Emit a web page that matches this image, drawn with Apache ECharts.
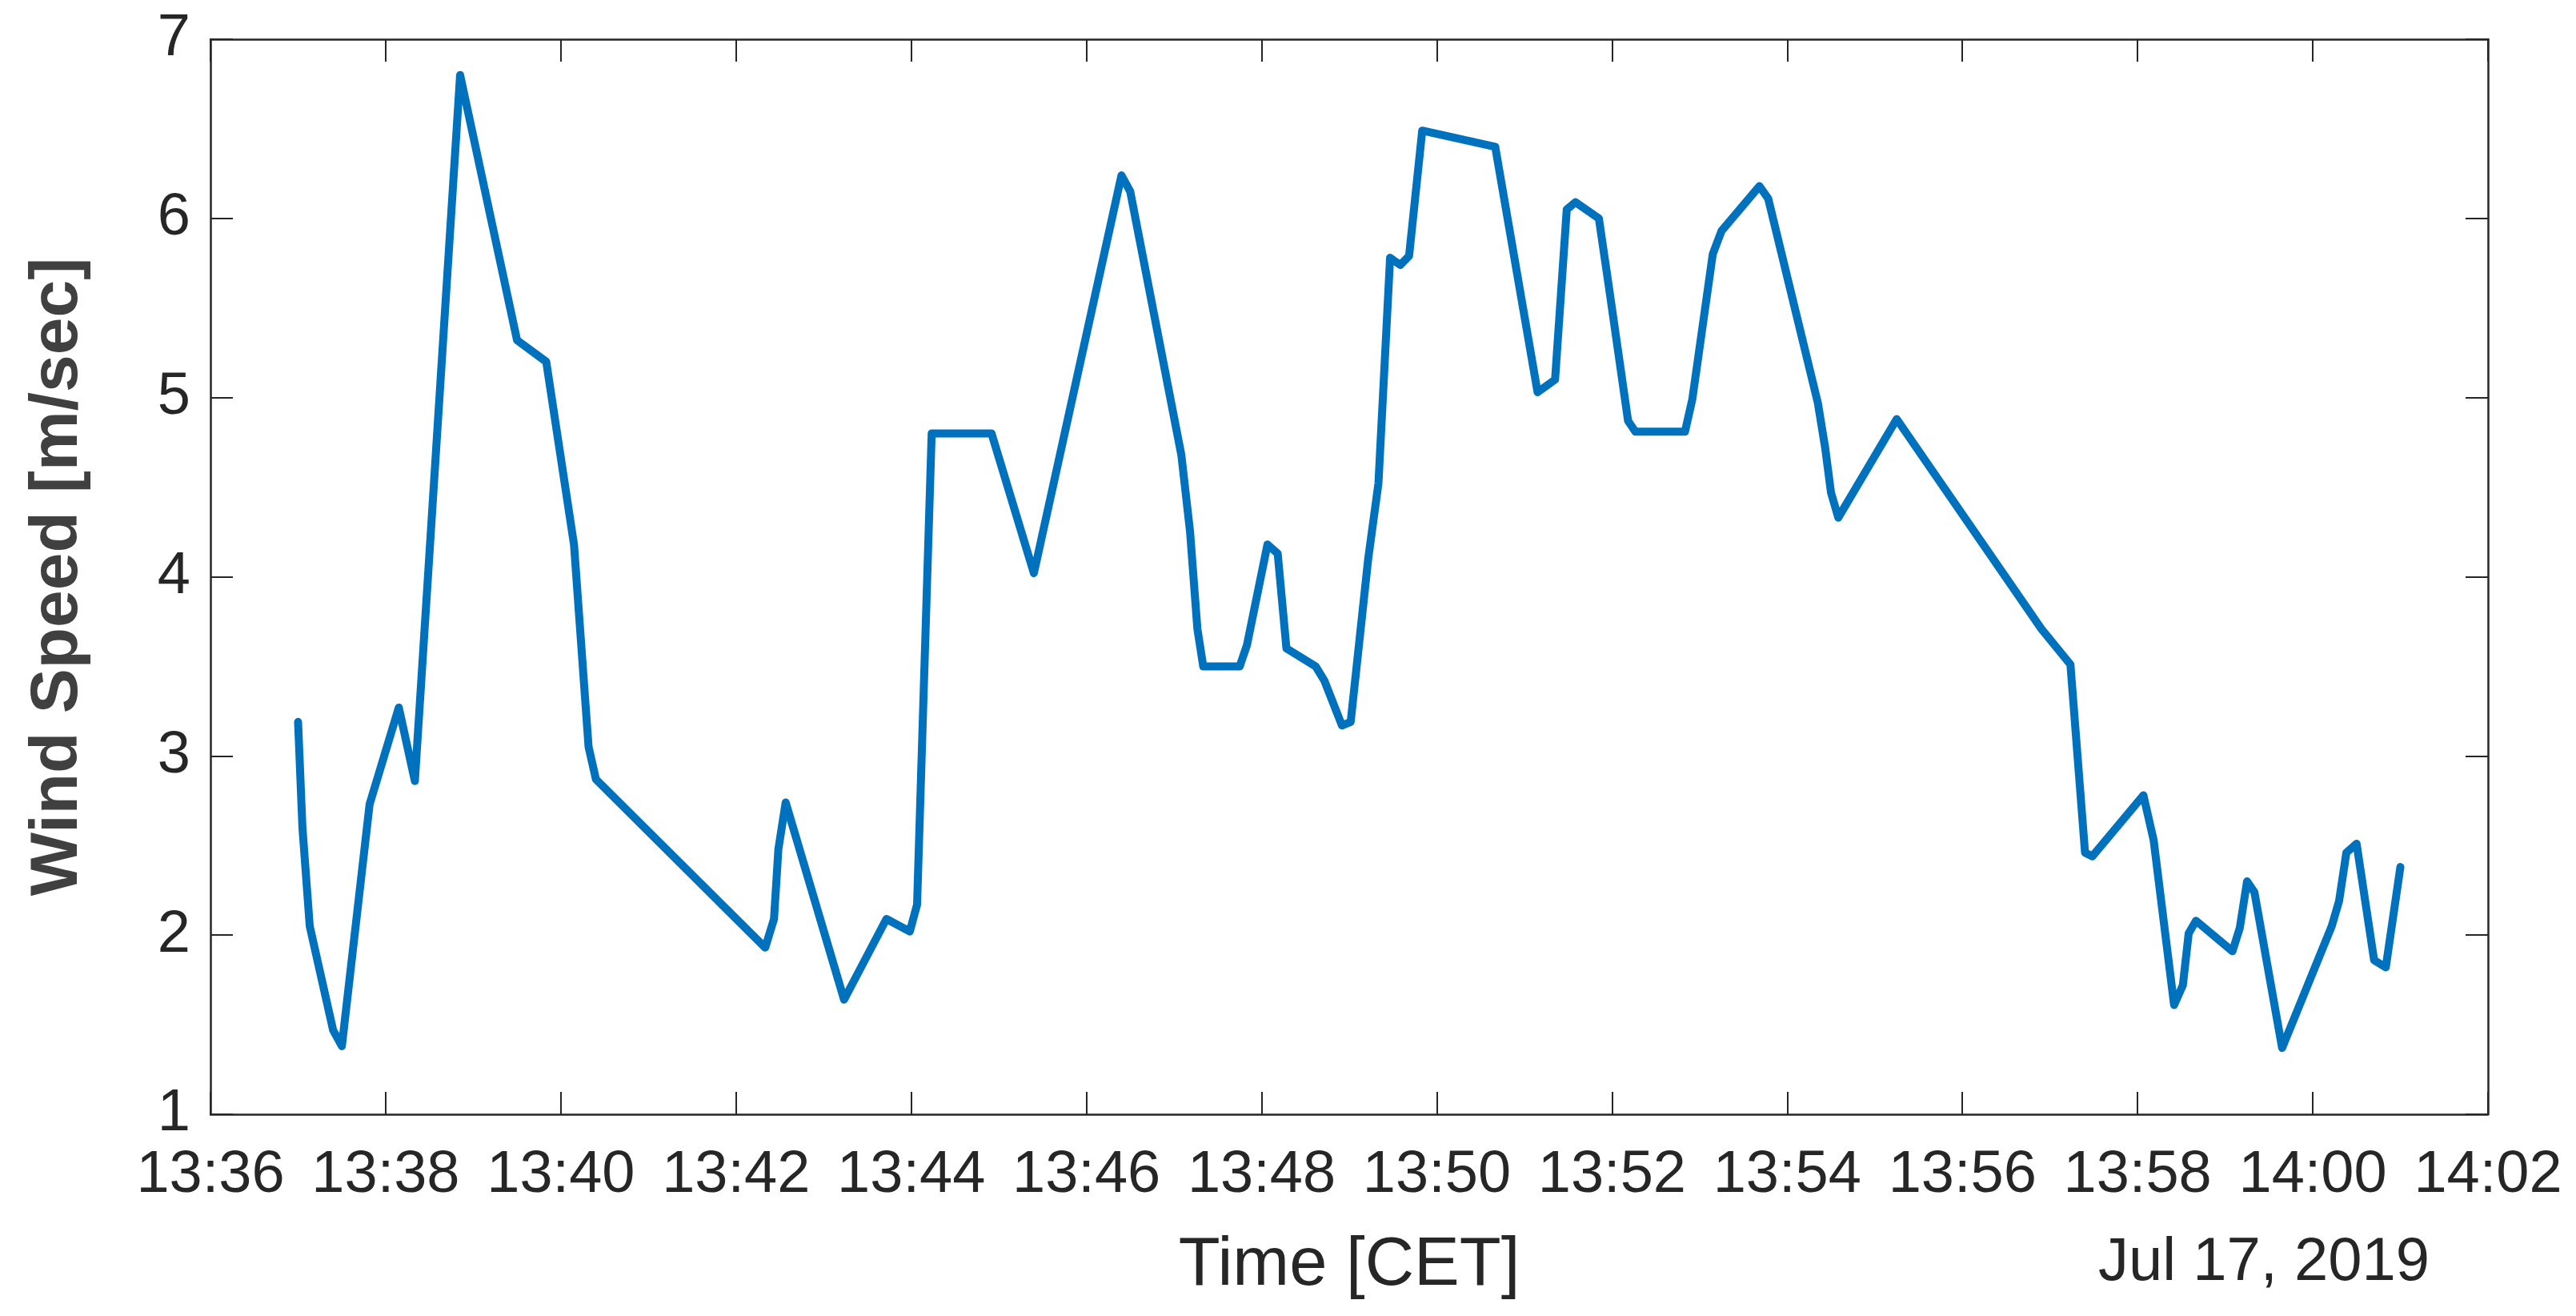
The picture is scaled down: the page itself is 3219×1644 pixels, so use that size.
<!DOCTYPE html>
<html>
<head>
<meta charset="utf-8">
<script src="https://cdn.jsdelivr.net/npm/echarts@6/dist/echarts.min.js"></script>
<style>
  html, body { margin: 0; padding: 0; background: #ffffff; }
  #chart { width: 3219px; height: 1644px; }
</style>
</head>
<body>
<div id="chart"></div>
<script>
// ---- data ----
const dateLabel = 'Jul 17, 2019';
const xAxisTitle = 'Time [CET]';
const yAxisTitle = 'Wind Speed [m/sec]';
const xRange = ['13:36', '14:02'];
const yTicks = [1, 2, 3, 4, 5, 6, 7];

const times = ['13:37:00','13:37:03','13:37:08','13:37:24','13:37:30','13:37:49','13:38:09','13:38:20','13:38:51','13:39:30',
  '13:39:50','13:40:09','13:40:19','13:40:24','13:42:20','13:42:26','13:42:29','13:42:34','13:43:14','13:43:43',
  '13:43:59','13:44:04','13:44:14','13:44:55','13:45:24','13:46:24','13:46:30','13:47:05','13:47:11','13:47:16',
  '13:47:20','13:47:45','13:47:50','13:48:04','13:48:11','13:48:17','13:48:37','13:48:43','13:48:55','13:49:01',
  '13:49:13','13:49:20','13:49:28','13:49:35','13:49:41','13:49:50','13:50:40','13:51:09','13:51:21','13:51:29',
  '13:51:35','13:51:51','13:51:58','13:52:11','13:52:16','13:52:50','13:52:55','13:53:09','13:53:15','13:53:41',
  '13:53:47','13:54:21','13:54:26','13:54:30','13:54:35','13:55:15','13:56:54','13:57:14','13:57:24','13:57:29',
  '13:58:04','13:58:11','13:58:25','13:58:31','13:58:35','13:58:40','13:59:05','13:59:10','13:59:15','13:59:20',
  '13:59:39','14:00:13','14:00:18','14:00:23','14:00:30','14:00:42','14:00:50','14:01:00'];

const speeds = [3.19,2.6,2.05,1.47,1.38,2.73,3.27,2.86,6.8,5.32,
  5.2,4.18,3.05,2.87,1.93,2.09,2.48,2.74,1.64,2.09,
  2.02,2.17,4.8,4.8,4.02,6.24,6.15,4.68,4.25,3.71,
  3.5,3.5,3.62,4.18,4.13,3.6,3.5,3.42,3.17,3.19,
  4.1,4.52,5.78,5.74,5.79,6.49,6.4,5.03,5.1,6.05,
  6.09,6.0,5.61,4.87,4.81,4.81,4.99,5.8,5.93,6.18,
  6.11,4.97,4.72,4.47,4.33,4.88,3.71,3.51,2.46,2.44,
  2.78,2.53,1.61,1.72,2.01,2.08,1.91,2.04,2.3,2.24,
  1.37,2.05,2.19,2.46,2.51,1.86,1.82,2.38];

// ---- helpers ----
function toMinutes(s) {
  const p = s.split(':').map(Number);
  return p[0] * 60 + p[1] + (p[2] || 0) / 60;
}
function fmtMinutes(v) {
  const h = Math.floor(v / 60);
  const m = Math.round(v - h * 60);
  return h + ':' + (m < 10 ? '0' : '') + m;
}

const seriesData = times.map((t, i) => [toMinutes(t), speeds[i]]);
const xMin = toMinutes(xRange[0]);
const xMax = toMinutes(xRange[1]);
const yMin = yTicks[0];
const yMax = yTicks[yTicks.length - 1];

const FONT = '"Liberation Sans", Arial, Helvetica, sans-serif';
const AXIS_COLOR = '#262626';

const axisLineStyle = { show: true, onZero: false, lineStyle: { color: AXIS_COLOR, width: 2.5 } };
const tickStyle = { show: true, inside: true, length: 28, lineStyle: { color: AXIS_COLOR, width: 2 } };

const chart = echarts.init(document.getElementById('chart'), null, { renderer: 'canvas' });
chart.setOption({
  backgroundColor: '#ffffff',
  animation: false,
  grid: {
    left: 263, right: 110, top: 49, bottom: 252,
    containLabel: false,
    outerBoundsMode: 'none'
  },
  xAxis: [
    {
      type: 'value', position: 'bottom', min: xMin, max: xMax, interval: 2,
      axisLine: axisLineStyle, axisTick: tickStyle, splitLine: { show: false },
      axisLabel: {
        show: true, margin: 40, fontSize: 74, fontFamily: FONT, color: AXIS_COLOR,
        formatter: fmtMinutes, showMinLabel: true, showMaxLabel: true
      },
      name: xAxisTitle, nameLocation: 'middle', nameGap: 147,
      nameTextStyle: { fontSize: 85, fontFamily: FONT, color: AXIS_COLOR }
    },
    {
      type: 'value', position: 'top', min: xMin, max: xMax, interval: 2,
      axisLine: axisLineStyle, axisTick: tickStyle, splitLine: { show: false },
      axisLabel: { show: false }
    }
  ],
  yAxis: [
    {
      type: 'value', position: 'left', min: yMin, max: yMax, interval: 1,
      axisLine: axisLineStyle, axisTick: tickStyle, splitLine: { show: false },
      axisLabel: {
        show: true, margin: 25, fontSize: 74, fontFamily: FONT, color: AXIS_COLOR,
        showMinLabel: true, showMaxLabel: true
      },
      name: yAxisTitle, nameLocation: 'middle', nameGap: 148, nameRotate: 90,
      nameTextStyle: { fontSize: 84, fontWeight: 'bold', fontFamily: FONT, color: '#404040' }
    },
    {
      type: 'value', position: 'right', min: yMin, max: yMax, interval: 1,
      axisLine: axisLineStyle, axisTick: tickStyle, splitLine: { show: false },
      axisLabel: { show: false }
    }
  ],
  graphic: [
    {
      type: 'text', left: 2832 - 210, top: 1540,
      style: { text: dateLabel, fontSize: 76, fontFamily: FONT, fill: AXIS_COLOR }
    }
  ],
  series: [
    {
      type: 'line',
      xAxisIndex: 0, yAxisIndex: 0,
      data: seriesData,
      showSymbol: false,
      symbol: 'none',
      lineStyle: { color: '#0072BD', width: 10, join: 'round', cap: 'round' },
      itemStyle: { color: '#0072BD' }
    }
  ]
});
</script>
</body>
</html>
